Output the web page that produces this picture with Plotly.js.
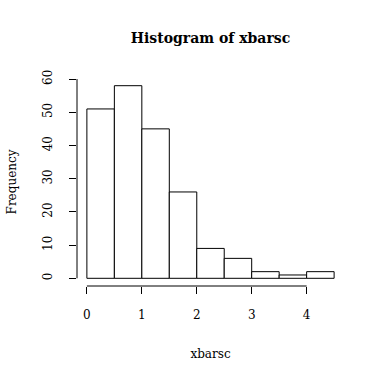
<!DOCTYPE html>
<html>
<head>
<meta charset="utf-8">
<script src="https://cdn.plot.ly/plotly-3.0.1.min.js"></script>
<style>html,body{margin:0;padding:0;background:#fff;}#chart{width:384px;height:383px;}</style>
</head>
<body>
<div id="chart"></div>
<script>
var binEdges = [0, 0.5, 1, 1.5, 2, 2.5, 3, 3.5, 4, 4.5];
var counts = [51, 58, 45, 26, 9, 6, 2, 1, 2];
var xTicks = [0, 1, 2, 3, 4];
var yTicks = [0, 10, 20, 30, 40, 50, 60];
var titleText = "Histogram of xbarsc";
var xLabel = "xbarsc";
var yLabel = "Frequency";

var centers = [], widths = [];
for (var i = 0; i < counts.length; i++) {
  centers.push((binEdges[i] + binEdges[i + 1]) / 2);
  widths.push(binEdges[i + 1] - binEdges[i]);
}
var xmin = binEdges[0], xmax = binEdges[binEdges.length - 1];
var ymax = Math.max.apply(null, counts);
var xpad = (xmax - xmin) * 0.04, ypad = ymax * 0.04;
var font = "DejaVu Serif, Liberation Serif, serif";

var trace = {
  type: "bar", x: centers, y: counts, width: widths,
  marker: {color: "#ffffff", line: {color: "#000000", width: 1}},
  hoverinfo: "x+y"
};

var layout = {
  width: 384, height: 383,
  margin: {l: 77, r: 40, t: 78, b: 97, pad: 0},
  paper_bgcolor: "#ffffff", plot_bgcolor: "#ffffff",
  showlegend: false,
  font: {family: font, size: 12, color: "#000000"},
  title: {text: "<b>" + titleText + "</b>", font: {family: font, size: 14, color: "#000"},
          x: 0.5, xref: "paper", xanchor: "center", y: (383 - 38) / 383, yref: "container", yanchor: "middle"},
  xaxis: {
    range: [xmin - xpad, xmax + xpad], tickvals: xTicks, ticktext: xTicks.map(String),
    ticks: "outside", ticklen: 7, tickwidth: 1, tickcolor: "#000",
    showgrid: false, zeroline: false, showline: false, ticklabelstandoff: 11,
    title: {text: xLabel, font: {family: font, size: 12, color: "#000"}, standoff: 28}
  },
  yaxis: {
    range: [-ypad, ymax + ypad], tickvals: yTicks, ticktext: yTicks.map(String),
    tickangle: -90,
    ticks: "outside", ticklen: 7, tickwidth: 1, tickcolor: "#000",
    showgrid: false, zeroline: false, showline: false, ticklabelstandoff: 12,
    title: {text: yLabel, font: {family: font, size: 12, color: "#000"}, standoff: 22}
  },
  shapes: [
    {type: "line", xref: "x", yref: "paper", x0: xTicks[0], x1: xTicks[xTicks.length - 1], y0: 0, y1: 0,
     line: {color: "#000", width: 1}},
    {type: "line", xref: "paper", yref: "y", x0: 0, x1: 0, y0: yTicks[0], y1: yTicks[yTicks.length - 1],
     line: {color: "#000", width: 1}}
  ]
};
Plotly.newPlot("chart", [trace], layout, {displayModeBar: false, staticPlot: true});
</script>
</body>
</html>
